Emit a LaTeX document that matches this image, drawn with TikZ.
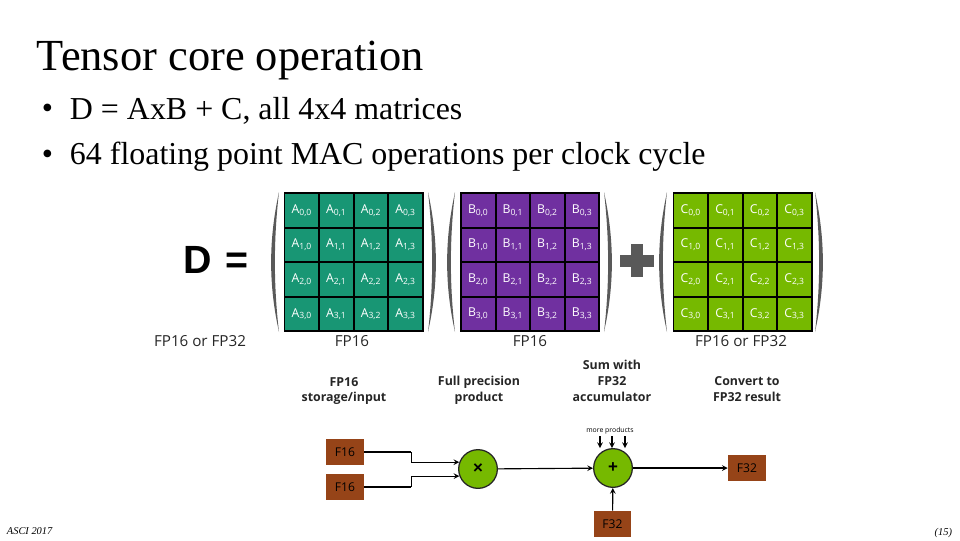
\documentclass[tikz,border=0pt]{standalone}
\usepackage{fontspec}
\setmainfont{Liberation Serif}
\newfontfamily\labelfont{Open Sans}
\newfontfamily\boldfont{Liberation Sans}
\usetikzlibrary{arrows, positioning}
\definecolor{tealcell}{RGB}{24, 150, 116}
\definecolor{purplecell}{RGB}{112, 48, 160}
\definecolor{greencell}{RGB}{118, 185, 0}
\definecolor{brownbox}{RGB}{150, 68, 24}
\definecolor{parengray}{RGB}{89, 89, 89}
\tikzset{
    cell/.style={draw=black, line width=1.3pt, minimum size=24.5pt, inner sep=0pt, text=white, font=\labelfont\fontsize{8.7}{9}\selectfont},
    fplabel/.style={font=\labelfont\fontsize{10.8}{12}\selectfont, text=black!85},
    headlabel/.style={font=\labelfont\bfseries\fontsize{8.8}{11.2}\selectfont, align=center, text=black!85},
    regbox/.style={fill=brownbox, minimum width=27pt, minimum height=18.5pt, inner sep=0pt, font=\labelfont\fontsize{8.6}{10}\selectfont, text=black},
    opnode/.style={circle, draw=black!85, line width=0.9pt, fill=greencell, minimum size=27.5pt, inner sep=0pt, font=\boldfont\bfseries\fontsize{12}{12}\selectfont},
    bullettext/.style={anchor=west, font=\fontsize{22.7}{26}\selectfont},
    wire/.style={-stealth, line width=0.8pt},
    heavywire/.style={line width=1.4pt}
}
% one 4x4 grid of named cells
\newcommand{\matcells}[3]{
    \foreach \r in {0,...,3}
        \foreach \c in {0,...,3}
            \node[cell, fill=#2] (#1-\r-\c) at ({#3+17.3+34.6*\c}, {210.3+34.6*\r}) {#1\textsubscript{\r,\c}};
}
% parentheses, given the x of their tips
\newcommand{\parenL}[1]{
    \fill[parengray] (#1,192) .. controls (#1-10.5,240) and (#1-10.5,285) .. (#1,332) .. controls (#1-5.5,285) and (#1-5.5,240) .. cycle;
}
\newcommand{\parenR}[1]{
    \fill[parengray] (#1,192) .. controls (#1+10.5,240) and (#1+10.5,285) .. (#1,332) .. controls (#1+5.5,285) and (#1+5.5,240) .. cycle;
}
\begin{document}
\begin{tikzpicture}[x=0.025cm, y=-0.025cm]
    \useasboundingbox (0,0) rectangle (960,540);

    % Title and bullets
    \node[anchor=west, font=\fontsize{31.6}{36}\selectfont] (title) at (32,61) {Tensor core operation};
    \node[bullettext] (bulleta) at (37,111) {•};
    \node[bullettext] (linea) at (65,111) {D = AxB + C, all 4x4 matrices};
    \node[bullettext] (bulletb) at (37,157) {•};
    \node[bullettext] (lineb) at (65,157) {64 floating point MAC operations per clock cycle};

    % Matrices
    \matcells{A}{tealcell}{284.5}
    \matcells{B}{purplecell}{461}
    \matcells{C}{greencell}{673.5}
    \parenL{279}
    \parenR{428}
    \parenL{455}
    \parenR{604}
    \parenL{667}
    \parenR{815}

    % Left side and plus
    \node[font=\boldfont\bfseries\fontsize{28}{28}\selectfont] (dname) at (198,260) {D};
    \node[font=\boldfont\bfseries\fontsize{28}{28}\selectfont] (equals) at (236.5,263) {=};
    \fill[parengray] (620,255) rectangle (654,267);
    \fill[parengray] (631,244) rectangle (643,277);

    % Type labels
    \node[fplabel] (typed) at (200,341) {FP16 or FP32};
    \node[fplabel] (typea) at (352,341) {FP16};
    \node[fplabel] (typeb) at (530,341) {FP16};
    \node[fplabel] (typec) at (741,341) {FP16 or FP32};

    % Stage headings
    \node[headlabel] (heada) at (344,391) {FP16\\storage/input};
    \node[headlabel] (headb) at (479,390.5) {Full precision\\product};
    \node[headlabel] (headc) at (612,381) {Sum with\\FP32\\accumulator};
    \node[headlabel] (headd) at (747,389) {Convert to\\FP32 result};

    % Data path
    \node[regbox] (fa) at (345,452) {F16};
    \node[regbox] (fb) at (345,487) {F16};
    \node[opnode] (mul) at (478,469) {×};
    \node[opnode] (add) at (613,468) {+};
    \node[regbox] (fout) at (747,468) {F32};
    \node[regbox] (fsum) at (612.5,524) {F32};
    \node[inner sep=0pt, font=\labelfont\fontsize{4.9}{5}\selectfont] (more) at (610,431) {more products};

    \draw[heavywire] (fa.east) -- ++(47,0) coordinate (faelbow);
    \draw[heavywire] (fb.east) -- ++(47,0) coordinate (fbelbow);
    \draw[wire] (faelbow) |- (mul.160);
    \draw[wire] (fbelbow) |- (mul.201);
    \draw[wire] (mul) -- (add);
    \draw[wire] (add) -- (fout);
    \draw[wire] (fsum) -- (add);

    \coordinate (morea) at (600,436);
    \coordinate (moreb) at (612,436);
    \coordinate (morec) at (625,436);
    \draw[wire] (morea) -- (morea |- add.north);
    \draw[wire] (moreb) -- (moreb |- add.north);
    \draw[wire] (morec) -- (morec |- add.north);

    % Footer
    \node[anchor=west, font=\itshape\fontsize{7.4}{8}\selectfont] (venue) at (2,531) {ASCI 2017};
    \node[anchor=east, font=\itshape\fontsize{7.4}{8}\selectfont] (page) at (957,533) {(15)};
\end{tikzpicture}
\end{document}
